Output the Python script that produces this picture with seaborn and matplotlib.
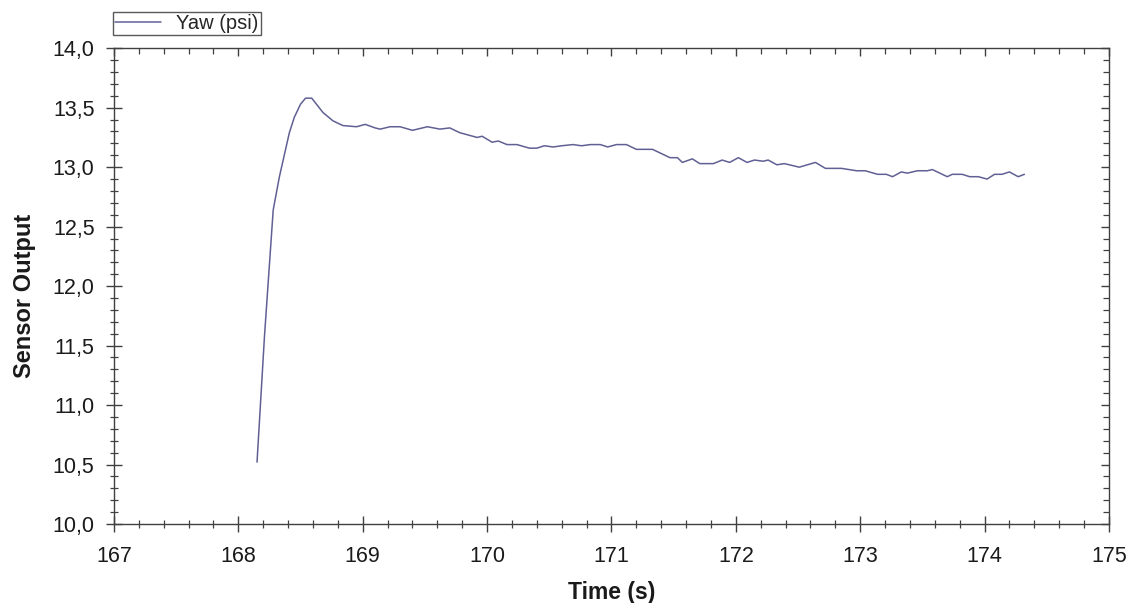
import numpy as np
import pandas as pd
import matplotlib
matplotlib.use("Agg")
import matplotlib.pyplot as plt
from matplotlib.ticker import MultipleLocator, FuncFormatter
import seaborn as sns

# time (s) and yaw sensor output
time_s = [168.15, 168.21, 168.28, 168.33, 168.41, 168.45, 168.50, 168.54, 168.59,
          168.68, 168.76, 168.84, 168.95, 169.02, 169.10, 169.14, 169.22, 169.30,
          169.40, 169.52, 169.62, 169.70, 169.78, 169.92, 169.96, 170.04, 170.09,
          170.16, 170.24, 170.34, 170.40, 170.46, 170.53, 170.60, 170.69, 170.76,
          170.83, 170.91, 170.97, 171.04, 171.12, 171.20, 171.33, 171.47, 171.53,
          171.57, 171.65, 171.71, 171.82, 171.89, 171.95, 172.02, 172.09, 172.15,
          172.22, 172.26, 172.33, 172.39, 172.51, 172.64, 172.72, 172.85, 172.97,
          173.04, 173.14, 173.21, 173.26, 173.33, 173.38, 173.46, 173.54, 173.58,
          173.64, 173.70, 173.74, 173.82, 173.88, 173.95, 174.02, 174.08, 174.14,
          174.20, 174.27, 174.32]
yaw_psi = [10.52, 11.58, 12.64, 12.92, 13.29, 13.42, 13.53, 13.58, 13.58,
           13.46, 13.39, 13.35, 13.34, 13.36, 13.33, 13.32, 13.34, 13.34,
           13.31, 13.34, 13.32, 13.33, 13.29, 13.25, 13.26, 13.21, 13.22,
           13.19, 13.19, 13.16, 13.16, 13.18, 13.17, 13.18, 13.19, 13.18,
           13.19, 13.19, 13.17, 13.19, 13.19, 13.15, 13.15, 13.08, 13.08,
           13.04, 13.07, 13.03, 13.03, 13.06, 13.04, 13.08, 13.04, 13.06,
           13.05, 13.06, 13.02, 13.03, 13.00, 13.04, 12.99, 12.99, 12.97,
           12.97, 12.94, 12.94, 12.92, 12.96, 12.95, 12.97, 12.97, 12.98,
           12.95, 12.92, 12.94, 12.94, 12.92, 12.92, 12.90, 12.94, 12.94,
           12.96, 12.92, 12.94]

df = pd.DataFrame({"Time (s)": time_s, "Yaw (psi)": yaw_psi})

sns.set_style("ticks")
plt.rcParams["font.family"] = ["Liberation Sans", "DejaVu Sans"]

fig = plt.figure(figsize=(11.31, 6.03), dpi=100)
ax = fig.add_axes([0.1008, 0.131, 0.8797, 0.789])

sns.lineplot(data=df, x="Time (s)", y="Yaw (psi)", ax=ax, color="#606094",
             linewidth=1.1, label="Yaw (psi)", legend=False)

ax.set_xlim(167, 175)
ax.set_ylim(10, 14)
ax.xaxis.set_major_locator(MultipleLocator(1))
ax.xaxis.set_minor_locator(MultipleLocator(0.2))
ax.yaxis.set_major_locator(MultipleLocator(0.5))
ax.yaxis.set_minor_locator(MultipleLocator(0.1))
ax.yaxis.set_major_formatter(FuncFormatter(lambda v, p: f"{v:.1f}".replace(".", ",")))

edge = "#404040"
for s in ax.spines.values():
    s.set_visible(True)
    s.set_color(edge)
    s.set_linewidth(1.0)

ax.tick_params(which="major", direction="inout", length=12, width=1, color=edge,
               labelsize=15.5, labelcolor="#1a1a1a")
ax.tick_params(axis="x", which="major", pad=10)
ax.tick_params(axis="y", which="major", pad=8)
ax.tick_params(which="minor", direction="inout", length=6, width=0.9, color=edge)

# inward ticks on top and right
top = ax.secondary_xaxis("top")
top.xaxis.set_major_locator(MultipleLocator(1))
top.xaxis.set_minor_locator(MultipleLocator(0.2))
top.tick_params(which="major", direction="in", length=6, width=1, color=edge, labeltop=False)
top.tick_params(which="minor", direction="in", length=4, width=0.9, color=edge)
top.spines["top"].set_visible(False)
right = ax.secondary_yaxis("right")
right.yaxis.set_major_locator(MultipleLocator(0.5))
right.yaxis.set_minor_locator(MultipleLocator(0.1))
right.tick_params(which="major", direction="in", length=6, width=1, color=edge, labelright=False)
right.tick_params(which="minor", direction="in", length=4, width=0.9, color=edge)
right.spines["right"].set_visible(False)

ax.set_xlabel("Time (s)", fontsize=16.5, fontweight="bold", color="#1a1a1a")
ax.set_ylabel("Sensor Output", fontsize=17, fontweight="bold", color="#1a1a1a")
ax.xaxis.set_label_coords(0.5, -0.12)
ax.yaxis.set_label_coords(-0.078, 0.48)

handles, labels = ax.get_legend_handles_labels()
leg = fig.legend(handles, labels, loc="upper left", bbox_to_anchor=(113 / 1131, 1 - 12 / 603),
                 fontsize=14.5, frameon=True, fancybox=False, borderpad=0.1,
                 handlelength=2.3, handletextpad=0.75, borderaxespad=0)
leg.get_frame().set_edgecolor("#303030")
leg.get_frame().set_linewidth(1.0)

fig.savefig("out.png", dpi=100)
